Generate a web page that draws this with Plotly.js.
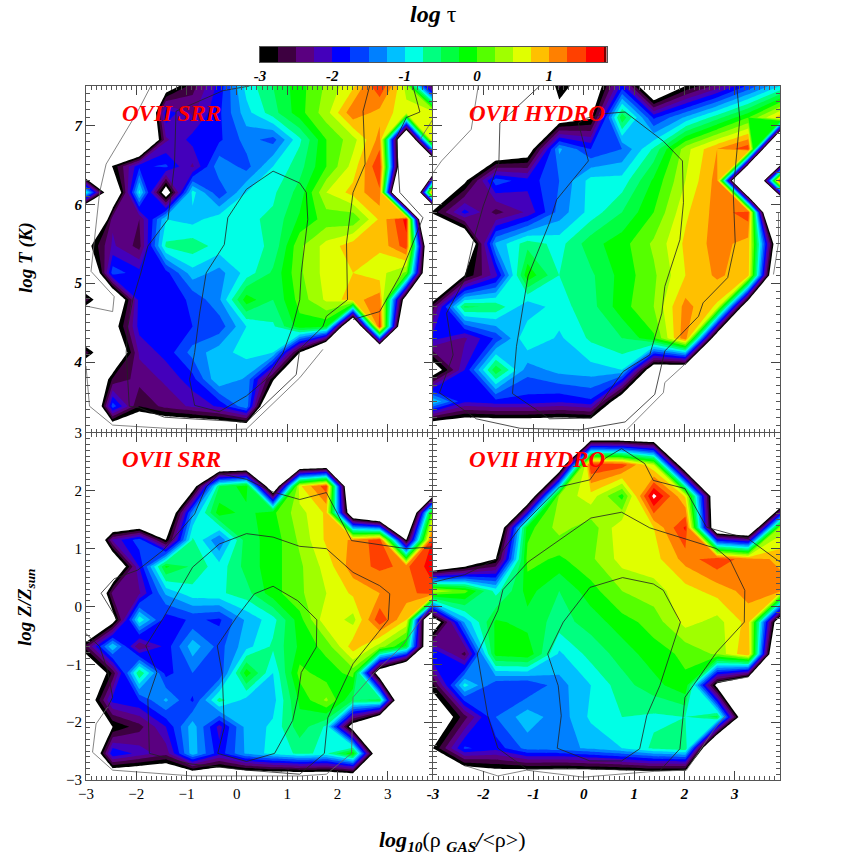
<!DOCTYPE html>
<html><head><meta charset="utf-8">
<script src="https://cdn.plot.ly/plotly-3.0.1.min.js"></script>
<style>html,body{margin:0;padding:0;background:#fff}</style></head>
<body><div id="chart" style="width:866px;height:866px"></div>
<script>
// Contour levels and band colours (log tau)
const levelStart = -3, levelEnd = 1.75, levelStep = 0.25;
const bandColors = ['#000000','#3d0040','#5a0080','#4400bb','#0000ff','#0040ff','#0080ff','#00c0ff','#00ffe6','#00ff80','#00ff40','#00ff00','#55ff00','#a0ff00','#e0ff00','#ffc000','#ff8000','#ff4000','#ff0000'];
const cbarTicks = [-3,-2,-1,0,1];

// Grid of log rho and value axes
const rhoSRR = [-3,-2.47,-1.94,-1.41,-0.88,-0.35,0.19,0.72,1.25,1.78,2.31,2.84,3.37,3.9];
const rhoHYD = [-3,-2.37,-1.75,-1.12,-0.49,0.14,0.76,1.39,2.02,2.65,3.27,3.9];
const tempSRR = [7.5,7.16,6.82,6.48,6.15,5.81,5.47,5.13,4.79,4.45,4.12,3.78,3.44,3.1];
const tempHYD = [7.5,7.1,6.7,6.3,5.9,5.5,5.1,4.7,4.3,3.9,3.5,3.1];
const metSRR = [3,2.54,2.08,1.62,1.15,0.69,0.23,-0.23,-0.69,-1.15,-1.62,-2.08,-2.54,-3];
const metHYD = [3,2.45,1.91,1.36,0.82,0.27,-0.27,-0.82,-1.36,-1.91,-2.45,-3];

const zTempSRR = [
[-5,-5,-5,-3.4,-2.6,-1.9,-0.9,-0.5,-0.1,0.3,0.7,1.5,0.4,-2.8],
[-5,-5,-5,-1.8,-2.3,-1.8,-1.1,-0.6,-0.1,0.4,1.2,0.9,0.6,0.7],
[-5,-5,-5,-2.3,-1.9,-1.8,-1.4,-1.6,-0.8,0.0,0.4,1.1,-5,1.0],
[-5,-2.95,-1.8,-1.7,-2.3,-1.3,-1.6,-1.0,-0.6,0,0.6,1.5,-5,-5],
[-0.8,-4,-0.9,-3.4,-0.9,-1.7,-1.0,-0.8,-0.4,0.5,0.85,1.2,-8,1.6],
[-6,-2.3,-2.5,-1.0,-1.1,-0.85,-0.8,-0.7,-0.2,0.1,0.05,0.8,1.6,-8],
[-3.2,-2.2,-2.6,-0.7,-0.6,-0.85,-0.85,-0.7,0.2,0.6,0.9,0.8,1.4,-5],
[-4.5,-1.6,-1.9,-1.85,-1.1,-1.35,-0.9,-0.45,0.2,0.6,0.75,0.6,0.2,-5],
[-2.6,-4,-1.9,-1.9,-1.7,-1.3,-0.1,-0.5,0.1,0.55,0.9,1.15,-3.6,-5],
[-4.5,-3.3,-1.9,-1.8,-1.75,-1.65,-1.0,-0.8,-0.1,-0.2,-5,1.5,-5,-5],
[-2.6,-4,-2.2,-1.9,-1.4,-1.1,-0.9,-1.0,-3,-5,-5,-5,-5,-5],
[-4.5,-2.7,-2.4,-2.2,-1.85,-1.0,-1.3,-2.9,-5,-5,-5,-5,-5,-5],
[-5,-1.6,-2.75,-2.4,-2.2,-1.95,-1.3,-4.5,-5,-5,-5,-5,-5,-5],
[-5,-4,-4,-4,-4,-4,-4,-5,-5,-5,-5,-5,-5,-5]];

const zTempHYD = [
[-5,-5,-5,-5,-2.7,-3.6,-1.9,-4,-3.0,-2.4,-1.7,-1.0],
[-5,-5,-5,-5,-3.4,-3.05,-0.3,-1.8,-1.2,-0.6,0,0.9],
[-5,-5,-3.8,-3.4,-1.2,-1.75,-1.5,-0.7,0.4,1.0,1.45,-8],
[-5,-3.1,-1.6,-1.9,-1.5,-0.9,-0.9,-0.2,0.5,1.1,-7.5,1.6],
[-2.9,-1.9,-2.6,-2.2,-1.4,-0.9,-0.5,0,0.7,1.1,1.4,-8],
[-5,-4,-1.2,-0.6,-0.85,-0.35,-0.1,0.3,0.8,1.1,0.9,-4],
[-5,-3,-2.1,-0.05,-0.75,-0.55,-0.15,0.2,0.75,1.05,0.85,-5],
[-2.6,-0.45,-0.55,-1.2,-0.85,-0.6,-0.1,0.25,1.1,0.7,-4,-5],
[-1.9,-2.3,-1.7,-0.75,-1.05,-0.7,-0.5,-0.05,1.2,-3.8,-5,-5],
[-3.4,-2.0,-0.3,-1.4,-1.15,-1.1,-1.0,-3.6,-3.8,-5,-5,-5],
[-1.0,-1.95,-1.85,-1.85,-1.95,-1.8,-3.6,-5,-5,-5,-5,-5],
[-4.2,-4,-4,-4,-4,-4,-5,-5,-5,-5,-5,-5]];

const zMetSRR = [
[-5,-5,-5,-5,-5,-5,-5,-5,-5,-5,-5,-5,-5,-5],
[-5,-5,-5,-5,-5,-5,-5,-5,-5,-5,-5,-5,-5,-5],
[-5,-5,-5,-5,-3.4,-0.5,-0.1,-4,0.7,1.4,-5,-5,-5,-5],
[-5,-5,-5,-4,-1.3,-0.1,-0.35,-0.05,0.4,0.8,-4,-5,-5,0.3],
[-5,-2.2,-1.6,-3.0,-0.7,-1.5,-0.35,-0.15,0.3,0.8,1.05,1.4,-3.0,1.6],
[-5,-4,-2.0,-0.2,-0.55,-0.9,-0.4,-0.1,0.2,0.6,1.15,1.3,1.2,1.65],
[-5,-2.4,-2.3,-1.2,-0.85,-0.8,-0.6,-0.1,0.2,0.5,0.8,1.0,1.15,1.4],
[-5,-3.3,-0.8,-1.9,-1.7,-1.8,-1.2,-0.85,-0.1,0.7,0.4,1.45,0.75,-5],
[-2.6,-1.0,-2.5,-1.9,-1.1,-1.6,-1.1,-0.7,-0.2,0.1,0.9,0.4,-0.3,-4.5],
[-4,-2.7,-0.5,-1.85,-1.5,-1.75,-0.1,-1.0,0.1,-0.15,0.1,-3.6,-5,-5],
[-3.6,-1.9,-1.75,-1.2,-1.8,-0.65,-1.1,-1.1,-0.2,0.3,-0.5,-0.4,-5,-5],
[-5,-3,-2.6,-2.0,-1.1,-2.1,-1.15,-0.95,-0.35,-0.8,-3.4,-5,-5,-5],
[-4.5,-1.75,-2.1,-2.4,-1.1,-1.9,-1.2,-0.9,-0.7,-0.8,-0.05,-4,-5,-5],
[-5,-4,-4,-4,-4,-4,-4,-4,-4,-4,-4,-5,-5,-5]];

const zMetHYD = [
[-5,-5,-5,-5,-5,-4.4,-4.4,-4.4,-5,-5,-5,-5],
[-5,-5,-5,-5,-4,1.5,1.4,0.5,-4,-5,-5,-5],
[-5,-5,-5,-4,0.3,0.65,-0.1,1.85,0.7,-4,-5,-5],
[-5,-5,-4,-0.1,0.35,0.1,0.7,0.75,1.55,-4,-4.4,0.35],
[-5,-4,-3,0.1,-0.05,0.2,0.6,0.65,1.1,1.45,1.1,0.95],
[0.5,0.1,-0.85,-0.15,-0.5,-0.1,0.25,0.4,0.65,0.85,1.1,1.1],
[-3.6,-1.2,-0.2,-0.35,-0.6,-0.4,-0.1,0.1,0.6,0.4,0.85,-3.8],
[-1.7,-2.6,-0.15,-0.05,-1.05,-0.65,-0.4,-0.1,0.05,0.3,1.0,-5],
[-2.8,-0.9,-1.7,-1.75,-1.35,-1.0,-0.6,-0.35,-0.05,-3.2,-4.4,-5],
[-3.7,-2.6,-1.5,-1.1,-1.4,-0.95,-0.75,-0.8,-0.75,-0.4,-4.2,-5],
[-3,-1.7,-1.9,-1.4,-1.35,-1.2,-1.0,-0.7,-0.55,-5,-5,-5],
[-5,-4,-3.6,-3.8,-3.9,-3.9,-3.9,-3.9,-4,-5,-5,-5]];

// Overlaid density contours: [x values, y values, colour class]
const linesTempSRR = [
 [[0.72,1.25,1.38,1.41,1.28,1.25,1.11,0.92,0.58,0.19,-0.35,-0.84,-0.94,-0.84,-0.74,-0.61,-0.25,-0.18,0.19,0.72],
  [6.42,6.27,6.15,5.81,5.13,4.79,4.45,4.12,3.78,3.57,3.37,3.45,3.78,4.12,4.62,5.13,5.49,5.83,6.19,6.42],'k'],
 [[0.25,-0.28,-1.21,-1.24,-1.37,-1.77,-1.91,-2.07,-2.17,-2.2,-2.14,-1.94,-1.44,0.19,1.18,1.25,1.71,1.78,2.2,2.18,2.31,2.55,2.51,2.64],
  [7.5,7.44,7.18,6.51,5.81,5.47,5.13,4.79,4.45,4.12,3.44,3.42,3.3,3.24,3.84,4.16,4.45,4.58,4.79,5.51,6.15,6.51,7.18,7.5],'k'],
 [[3.5,3.64,3.37,3.17,3.24,3.7,3.24,2.84,2.31],[7.5,7.17,7.1,6.84,6.15,5.83,5.09,4.64,4.54],'k'],
 [[-1.71,-1.97,-2.6,-2.73,-2.9,-2.44,-2.47,-3],[7.5,7.18,6.51,6.15,5.15,4.83,4.64,4.71],'g'],
 [[-3,-2.93,-2.47,-1.41,-0.35,0.19,1.25,1.71],[3.95,3.44,3.2,3.16,3.14,3.15,3.8,4.16],'g'],
 [[3.9,3.64],[7.08,6.82],'g']];
const linesTempHYD = [
 [[0.05,0.42,0.82,1.58,1.96,1.98,1.91,1.61,1.55,1.31,0.78,0.12,-0.68,-1.42,-1.34,-1.11,-0.68,-0.54,0.09,-0.11,0.05],
  [7.09,7.15,7.17,6.8,6.55,6.02,5.55,4.96,4.62,4.09,3.88,3.29,3.28,3.6,4.2,5.09,5.77,6.06,6.55,7.03,7.09],'k'],
 [[-0.88,-1.67,-1.69,-2,-2.2,-2.37,-2.73,-2.6,-2.87,-2.14,-1.27,-0.08,0.82,1.41,1.61,2.28,2.37,2.86,3.01,2.97,3.1,3.04],
  [7.5,7.03,6.53,5.98,5.53,5.05,4.62,4.09,3.61,3.28,3.16,3.14,3.24,3.59,4.14,4.58,4.75,5.07,5.51,6.15,7.08,7.5],'k'],
 [[-2.1,-2.24,-2.83,-3],[7.5,6.95,6.55,6.4],'g'],
 [[0.85,1.58,1.61,2.04],[3.14,3.61,3.74,3.99],'g'],
 [[3.87,3.87,3.77],[5.89,5.51,5.11],'g']];
const linesMetSRR = [
 [[0.72,1.21,1.59,1.58,1.28,1.21,1.11,0.75,0.19,-0.38,-0.25,-0.29,-0.39,-0.01,0.35,0.72],
  [0.35,0.1,-0.23,-0.7,-1.14,-1.57,-1.97,-2.54,-2.68,-2.54,-2.09,-1.17,-0.68,-0.19,0.22,0.35],'k'],
 [[0.19,0.72,1.25,1.78,2.31,2.84,3.04,3.01,2.31,1.81,1.74,1.25,0.19,-0.94,-1.74,-1.77,-1.59,-1.81,-1.47,-0.88,-0.35,0.19],
  [1.26,1.2,1.04,1,0.59,0.36,0.22,-0.23,-0.99,-1.92,-2.54,-2.9,-2.83,-2.72,-2.54,-1.6,-1.14,-0.68,-0.21,0.68,1.08,1.26],'k'],
 [[-2.37,-2.7,-2.44,-1.97,-1.47,-0.84,-0.61,-0.35,0.19,0.72,1.25,1.78,2.28,3.37,3.9],
  [-0.24,0.23,0.48,0.63,0.97,1.6,2.07,2.3,2.2,1.98,1.85,1.97,1.14,1,1.03],'k'],
 [[-3,-2.73,-2.57,-2.47,-2.57],[-0.47,-0.69,-1.11,-1.57,-1.74],'k'],
 [[-2.57,-2.8,-2.87,-2.47,-0.88,1.25,1.78,2.28,2.31,2.77,3.27,3.9],
  [-1.74,-2.03,-2.52,-2.83,-2.93,-2.93,-2.9,-2.54,-1.57,-1.11,-0.7,0.07],'g']];
const linesMetHYD = [
 [[0.77,1.38,1.58,1.92,1.51,1.25,1.11,0.75,0.12,-0.53,-0.45,-0.51,-0.72,-0.41,0.12,0.77],
  [0.5,0.39,0.28,-0.27,-1.37,-1.89,-2.46,-2.67,-2.67,-2.45,-1.89,-1.37,-0.82,-0.27,0.33,0.5],'k'],
 [[0.75,1.31,2.64,2.91,3.2,3.19,2.64,2.18,2.01,1.91,1.51,0.12,-1.14,-1.71,-1.91,-2.12,-1.71,-1.61,-1.11,0.14,0.75],
  [1.63,1.36,1,0.8,0.28,-0.27,-0.79,-1.37,-1.57,-2.46,-2.84,-2.81,-2.81,-2.45,-1.89,-0.82,-0.07,0.29,0.77,1.53,1.63],'k'],
 [[-3,-2.37,-1.74,-1.27,-0.48,0.12,0.42,0.75,1.21,1.38,2.01,2.44,3.27,3.9],
  [0.42,0.55,0.82,1.37,2.07,2.19,2.56,2.73,2.47,2.18,2.04,1.37,1.17,0.77],'k'],
 [[-2.37,-1.71,-1.14,-0.01,1.41,2.04,2.57,2.81],[-2.75,-2.93,-2.83,-2.95,-2.85,-2.83,-2.15,-1.89],'g'],
 [[2.64,3.27],[-1.31,-1.22],'g']];

// Layout in figure fractions
const W = 866;
const px = v => v / W;
const serif = '"Liberation Serif","Times New Roman",serif';

const colorscale = [[0,'#ffffff']].concat(bandColors.map((c,i)=>[(i+1)/20,c])).concat([[1,'#ffffff']]);

const panels = [
 {ax:'', x:rhoSRR, y:tempSRR, z:zTempSRR, lines:linesTempSRR},
 {ax:'2', x:rhoHYD, y:tempHYD, z:zTempHYD, lines:linesTempHYD},
 {ax:'3', x:rhoSRR, y:metSRR, z:zMetSRR, lines:linesMetSRR},
 {ax:'4', x:rhoHYD, y:metHYD, z:zMetHYD, lines:linesMetHYD}];

const data = [];
panels.forEach(p=>{
  data.push({type:'contour', x:p.x, y:p.y.slice().reverse(), z:p.z.slice().reverse(),
    xaxis:'x'+p.ax, yaxis:'y'+p.ax, autocontour:false,
    contours:{start:levelStart,end:levelEnd,size:levelStep,coloring:'fill',showlines:false},
    line:{width:0,smoothing:0}, colorscale:colorscale, showscale:false, hoverinfo:'skip'});
  p.lines.forEach(l=>{
    data.push({type:'scatter', mode:'lines', x:l[0], y:l[1], xaxis:'x'+p.ax, yaxis:'y'+p.ax,
      line:{color:l[2]==='k'?'#222222':'#666666', width:0.8}, hoverinfo:'skip', showlegend:false});
  });
});
// Colour bar strip
const barEdges = [];
for(let i=0;i<=bandColors.length;i++) barEdges.push(levelStart+i*levelStep);
barEdges.push(1.79);
const barVals = bandColors.map((c,i)=>i).concat([bandColors.length]);
const barScale = bandColors.map((c,i)=>[i/bandColors.length,c]).concat([[1,'#7a0000']]);
data.push({type:'heatmap', x:barEdges, y:[0,1], z:[barVals], xaxis:'x5', yaxis:'y5',
  colorscale:barScale, zmin:0, zmax:bandColors.length, showscale:false, hoverinfo:'skip'});

function frame(extra){
  return Object.assign({showline:true, linecolor:'#555', linewidth:1, mirror:'allticks', ticks:'inside',
    ticklen:9, tickwidth:1, tickcolor:'#444', zeroline:false, showgrid:false,
    minor:{dtick:0.1, ticks:'inside', ticklen:4, tickwidth:1, tickcolor:'#555', showgrid:false},
    tickfont:{family:serif,size:15,color:'#000'}}, extra);
}
const xr=[-3,3.9], yT=[3.1,7.5], yZ=[-3,3];
const xVals=[-3,-2,-1,0,1,2,3];
const layout = {
  width:866,height:866,margin:{l:0,r:0,t:0,b:0},paper_bgcolor:'#fff',plot_bgcolor:'#fff',showlegend:false,
  xaxis: frame({domain:[px(86),px(433)],range:xr,anchor:'y',tickvals:xVals,showticklabels:false}),
  xaxis2:frame({domain:[px(433),px(780)],range:xr,anchor:'y2',tickvals:xVals,showticklabels:false}),
  xaxis3:frame({domain:[px(86),px(433)],range:xr,anchor:'y3',tickvals:xVals,ticktext:['\u22123','\u22122','\u22121','0','1','2','3']}),
  xaxis4:frame({domain:[px(433),px(780)],range:xr,anchor:'y4',tickvals:xVals,ticktext:['<b><i>-3</i></b>','<b><i>-2</i></b>','<b><i>-1</i></b>','<b><i>0</i></b>','<b><i>1</i></b>','<b><i>2</i></b>','<b><i>3</i></b>']}),
  yaxis: frame({domain:[1-px(433),1-px(86)],range:yT,anchor:'x',tickvals:[4,5,6,7],ticktext:['<b><i>4</i></b>','<b><i>5</i></b>','<b><i>6</i></b>','<b><i>7</i></b>']}),
  yaxis2:frame({domain:[1-px(433),1-px(86)],range:yT,anchor:'x2',tickvals:[4,5,6,7],showticklabels:false}),
  yaxis3:frame({domain:[1-px(780),1-px(433)],range:yZ,anchor:'x3',tickvals:[-3,-2,-1,0,1,2,3],ticktext:['\u22123','\u22122','\u22121','0','1','2','3']}),
  yaxis4:frame({domain:[1-px(780),1-px(433)],range:yZ,anchor:'x4',tickvals:[-3,-2,-1,0,1,2,3],showticklabels:false}),
  xaxis5:{domain:[px(260),px(606.5)],range:[-3,1.79],anchor:'y5',side:'bottom',showline:true,mirror:true,linecolor:'#555',linewidth:1,
    tickvals:cbarTicks,ticktext:cbarTicks.map(v=>'<b><i>'+v+'</i></b>'),ticks:'',showgrid:false,zeroline:false,tickfont:{family:serif,size:15,color:'#000'}},
  yaxis5:{domain:[1-px(62),1-px(47)],range:[0,1],anchor:'x5',showline:true,mirror:true,linecolor:'#555',linewidth:1,showticklabels:false,ticks:'',showgrid:false,zeroline:false},
  annotations:[]
};
const ann=(text,x,y,size,color,rot)=>layout.annotations.push({text:text,xref:'paper',yref:'paper',x:px(x),y:1-px(y),xanchor:'center',yanchor:'middle',showarrow:false,textangle:rot||0,font:{family:serif,size:size,color:color||'#000'}});
ann('<b><i>OVII SRR</i></b>',171,113,23,'#ff0000');
ann('<b><i>OVII HYDRO</i></b>',537,113,23,'#ff0000');
ann('<b><i>OVII SRR</i></b>',171,460,23,'#ff0000');
ann('<b><i>OVII HYDRO</i></b>',537,460,23,'#ff0000');
ann('<b><i>log</i></b> \u03c4',433,14,24);
ann('<b><i>log T (K)</i></b>',26,258,19,'#000',-90);
ann('<b><i>log Z/Z<sub>sun</sub></i></b>',26,607,19,'#000',-90);
ann('<b><i>log<sub>10</sub></i></b>(\u03c1 <sub><b><i>GAS</i></b></sub><b><i>/</i></b>&lt;\u03c1&gt;)',452,841,22);

Plotly.newPlot('chart',data,layout,{displayModeBar:false,staticPlot:true});
</script></body></html>
